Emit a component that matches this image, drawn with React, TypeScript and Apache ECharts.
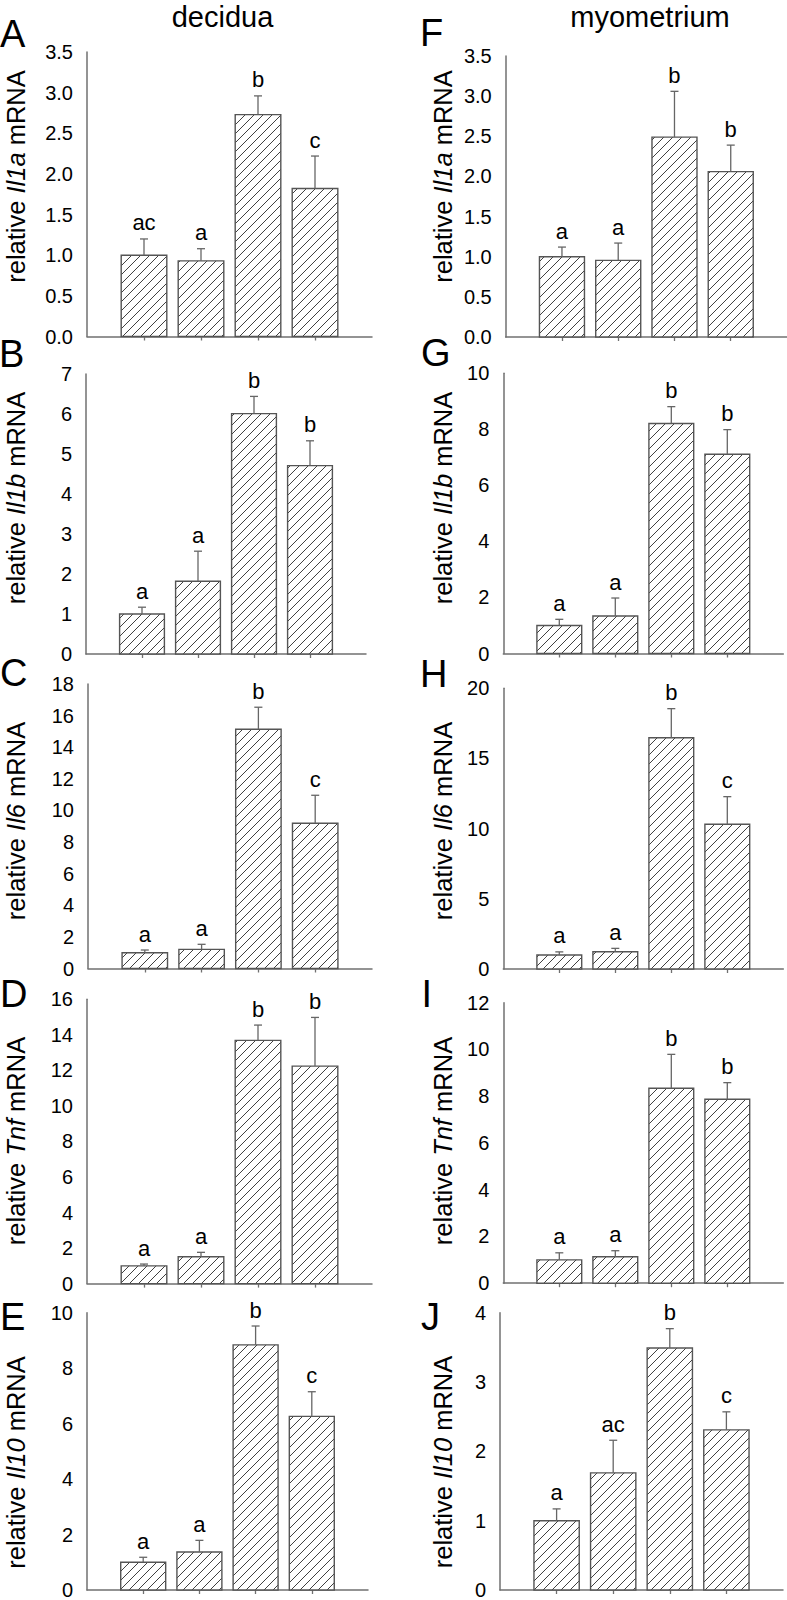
import React, { useEffect, useRef } from "react";
import * as echarts from "echarts";

// ---- data ----
const groups = ["", "g1", "g2", "g3", "g4", ""];
const columnTitles = ["decidua", "myometrium"];
const panelLetters = ["A", "B", "C", "D", "E", "F", "G", "H", "I", "J"];
const genes = ["Il1a", "Il1b", "Il6", "Tnf", "Il10", "Il1a", "Il1b", "Il6", "Tnf", "Il10"];

const il1aDecidua = [1.0, 0.93, 2.73, 1.82];
const il1aDeciduaSem = [0.2, 0.15, 0.23, 0.4];
const il1aDeciduaSig = ["ac", "a", "b", "c"];

const il1bDecidua = [1.0, 1.82, 6.01, 4.71];
const il1bDeciduaSem = [0.17, 0.75, 0.43, 0.62];
const il1bDeciduaSig = ["a", "a", "b", "b"];

const il6Decidua = [1.0, 1.21, 15.14, 9.19];
const il6DeciduaSem = [0.17, 0.32, 1.39, 1.77];
const il6DeciduaSig = ["a", "a", "b", "c"];

const tnfDecidua = [1.0, 1.51, 13.69, 12.24];
const tnfDeciduaSem = [0.1, 0.25, 0.86, 2.74];
const tnfDeciduaSig = ["a", "a", "b", "b"];

const il10Decidua = [1.0, 1.37, 8.84, 6.26];
const il10DeciduaSem = [0.18, 0.42, 0.68, 0.89];
const il10DeciduaSig = ["a", "a", "b", "c"];

const il1aMyo = [1.0, 0.955, 2.49, 2.06];
const il1aMyoSem = [0.12, 0.215, 0.57, 0.33];
const il1aMyoSig = ["a", "a", "b", "b"];

const il1bMyo = [1.0, 1.34, 8.21, 7.11];
const il1bMyoSem = [0.22, 0.64, 0.6, 0.88];
const il1bMyoSig = ["a", "a", "b", "b"];

const il6Myo = [1.0, 1.23, 16.48, 10.31];
const il6MyoSem = [0.22, 0.24, 2.07, 1.97];
const il6MyoSig = ["a", "a", "b", "c"];

const tnfMyo = [1.0, 1.13, 8.34, 7.87];
const tnfMyoSem = [0.3, 0.26, 1.45, 0.71];
const tnfMyoSig = ["a", "a", "b", "b"];

const il10Myo = [1.0, 1.69, 3.49, 2.31];
const il10MyoSem = [0.17, 0.47, 0.28, 0.26];
const il10MyoSig = ["a", "ac", "b", "c"];

const yMax = [3.5, 7, 18, 16, 10, 3.5, 10, 20, 12, 4];
const yStep = [0.5, 1, 2, 2, 2, 0.5, 2, 5, 2, 1];

const means = [il1aDecidua, il1bDecidua, il6Decidua, tnfDecidua, il10Decidua, il1aMyo, il1bMyo, il6Myo, tnfMyo, il10Myo];
const sems = [il1aDeciduaSem, il1bDeciduaSem, il6DeciduaSem, tnfDeciduaSem, il10DeciduaSem, il1aMyoSem, il1bMyoSem, il6MyoSem, tnfMyoSem, il10MyoSem];
const sigs = [il1aDeciduaSig, il1bDeciduaSig, il6DeciduaSig, tnfDeciduaSig, il10DeciduaSig, il1aMyoSig, il1bMyoSig, il6MyoSig, tnfMyoSig, il10MyoSig];

// ---- layout (pixels) ----
const gridBoxes = [
  { left: 87, top: 52, width: 285, height: 284.5 },
  { left: 86, top: 374, width: 280, height: 280 },
  { left: 88, top: 684, width: 284, height: 284.5 },
  { left: 87, top: 999.3, width: 285, height: 284.3 },
  { left: 87, top: 1312.7, width: 281, height: 279.6 },
  { left: 505.7, top: 56, width: 281.3, height: 281 },
  { left: 503.3, top: 373.3, width: 280, height: 280.2 },
  { left: 503.3, top: 688.3, width: 280, height: 280.7 },
  { left: 503.3, top: 1002.7, width: 280, height: 280.5 },
  { left: 500, top: 1312.7, width: 283, height: 280.6 },
];
const letterPos = [
  [0, 33.5], [-1, 354], [0, 673], [0, 993.5], [0, 1317],
  [420, 33], [421, 352.5], [420, 673.5], [421.5, 993.5], [421, 1317],
];
const titlePos = [
  [16.2, 176.5], [16.2, 498], [16.2, 821], [15.5, 1141], [15.5, 1462.5],
  [443.2, 176.5], [443.2, 498], [443.2, 821], [443.2, 1141], [443.2, 1462],
];
const colTitlePos = [[222.5, 16.5], [650, 16.5]];

const FONT = "Liberation Sans, Arial, sans-serif";
const AXIS_COLOR = "#707070";

function makeRenderItem(letters: string[]) {
  return (params: any, api: any) => {
    const idx = api.value(0);
    const mean = api.value(1);
    const sem = api.value(2);
    const base = api.coord([idx, 0]);
    const top = api.coord([idx, mean]);
    const errTop = api.coord([idx, mean + sem]);
    const next = api.coord([idx + 1, 0]);
    const unit = next[0] - base[0];
    const w = unit * 0.8;
    const x0 = base[0] - w / 2;
    const x1 = base[0] + w / 2;
    const y0 = top[1];
    const y1 = base[1];
    const children: any[] = [];
    children.push({
      type: "rect",
      shape: { x: x0, y: y0, width: w, height: y1 - y0 },
      style: { fill: "#ffffff" },
    });
    const step = 9;
    for (let c = Math.ceil((x0 + y0) / step) * step; c < x1 + y1; c += step) {
      const xa = Math.max(x0, c - y1);
      const xb = Math.min(x1, c - y0);
      if (xb - xa > 0.5) {
        children.push({
          type: "line",
          shape: { x1: xa, y1: c - xa, x2: xb, y2: c - xb },
          style: { stroke: "#2a2a2a", lineWidth: 0.9 },
        });
      }
    }
    children.push({
      type: "rect",
      shape: { x: x0, y: y0, width: w, height: y1 - y0 },
      style: { fill: "none", stroke: "#555555", lineWidth: 1.4 },
    });
    children.push({
      type: "line",
      shape: { x1: base[0], y1: y0, x2: base[0], y2: errTop[1] },
      style: { stroke: "#666666", lineWidth: 1.3 },
    });
    children.push({
      type: "line",
      shape: { x1: base[0] - 4, y1: errTop[1], x2: base[0] + 4, y2: errTop[1] },
      style: { stroke: "#666666", lineWidth: 1.3 },
    });
    children.push({
      type: "text",
      x: base[0],
      y: errTop[1] - 16,
      style: {
        text: letters[params.dataIndex],
        fontSize: 22,
        fontFamily: FONT,
        fill: "#000",
        align: "center",
        verticalAlign: "middle",
      },
    });
    return { type: "group", children };
  };
}

export default function App() {
  const ref = useRef<HTMLDivElement>(null);
  useEffect(() => {
    if (!ref.current) return;
    const chart = echarts.init(ref.current, null, { renderer: "svg" });
    const grid: any[] = [];
    const xAxis: any[] = [];
    const yAxis: any[] = [];
    const series: any[] = [];
    const graphic: any[] = [];
    for (let p = 0; p < 10; p++) {
      const g = gridBoxes[p];
      grid.push({ left: g.left, top: g.top, width: g.width, height: g.height, containLabel: false });
      xAxis.push({
        type: "category",
        gridIndex: p,
        data: groups,
        boundaryGap: false,
        axisLine: { show: true, lineStyle: { color: AXIS_COLOR, width: 1.5 } },
        axisTick: {
          show: true,
          length: 4,
          interval: (i: number) => i > 0 && i < groups.length - 1,
          lineStyle: { color: AXIS_COLOR, width: 1.3 },
        },
        axisLabel: { show: false },
        splitLine: { show: false },
      });
      const dec = yStep[p] < 1 ? 1 : 0;
      yAxis.push({
        type: "value",
        gridIndex: p,
        min: 0,
        max: yMax[p],
        interval: yStep[p],
        axisLine: { show: true, lineStyle: { color: AXIS_COLOR, width: 1.5 } },
        axisTick: { show: false },
        splitLine: { show: false },
        axisLabel: {
          margin: 14,
          fontSize: 20,
          fontFamily: FONT,
          color: "#000",
          formatter: (v: number) => v.toFixed(dec),
        },
      });
      series.push({
        type: "custom",
        xAxisIndex: p,
        yAxisIndex: p,
        renderItem: makeRenderItem(sigs[p]),
        encode: { x: 0, y: 1 },
        data: means[p].map((m, i) => [i + 1, m, sems[p][i]]),
        clip: false,
        z: 3,
      });
      graphic.push({
        type: "text",
        x: letterPos[p][0],
        y: letterPos[p][1],
        style: {
          text: panelLetters[p],
          fontSize: 38,
          fontFamily: FONT,
          fill: "#000",
          align: "left",
          verticalAlign: "middle",
        },
      });
      graphic.push({
        type: "text",
        x: titlePos[p][0],
        y: titlePos[p][1],
        rotation: Math.PI / 2,
        style: {
          text: "{n|relative }{i|" + genes[p] + "}{n| mRNA}",
          fontSize: 25.5,
          fontFamily: FONT,
          fill: "#000",
          align: "center",
          verticalAlign: "middle",
          rich: {
            n: { fontSize: 25.5, fontFamily: FONT, fill: "#000" },
            i: { fontSize: 25.5, fontFamily: FONT, fontStyle: "italic", fill: "#000" },
          },
        },
      });
    }
    columnTitles.forEach((t, i) => {
      graphic.push({
        type: "text",
        x: colTitlePos[i][0],
        y: colTitlePos[i][1],
        style: {
          text: t,
          fontSize: 29,
          fontFamily: FONT,
          fill: "#000",
          align: "center",
          verticalAlign: "middle",
        },
      });
    });
    chart.setOption({
      animation: false,
      backgroundColor: "#ffffff",
      grid,
      xAxis,
      yAxis,
      series,
      graphic,
    });
    return () => chart.dispose();
  }, []);
  return (
    <div
      ref={ref}
      style={{ position: "absolute", left: 0, top: 0, width: 787, height: 1600 }}
    />
  );
}
